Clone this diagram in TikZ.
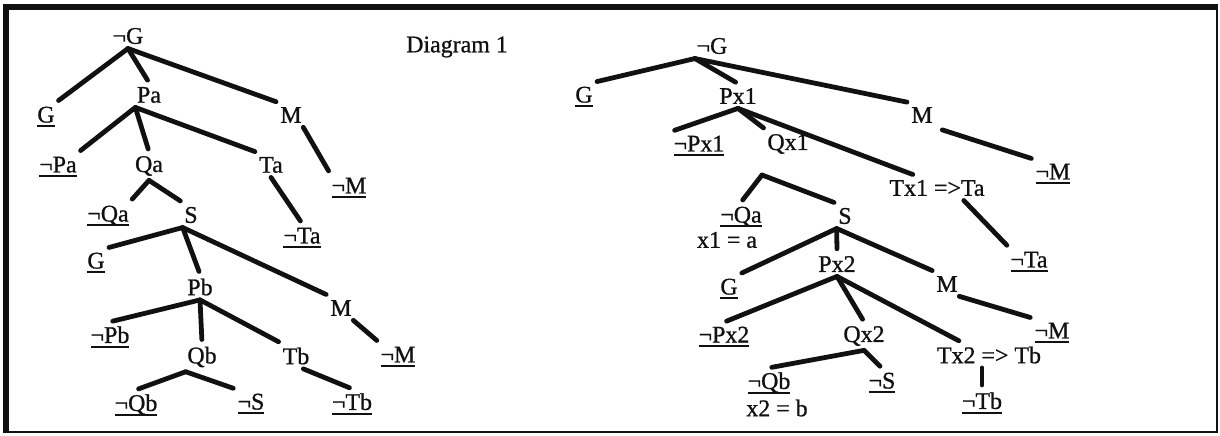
\documentclass[tikz,border=0pt]{standalone}
\usepackage{fontspec}
\setmainfont{Liberation Serif}
\newfontfamily\scanfont{Liberation Serif}[UprightFeatures={FakeBold=0.9}]
\usepackage{xcolor}
\definecolor{InkBlack}{HTML}{111111}
% closed branch: formula with a heavy rule under it
\newcommand{\leaf}[1]{\setbox0\hbox{#1}\leavevmode\rlap{\rule[-3.4pt]{\wd0}{1.4pt}}\box0}

\begin{document}
\begin{tikzpicture}[
	x=0.25mm, y=-0.25mm, % one unit = one pixel of the scan
	% Style for the formulas in the trees
	formula/.style={
		text=InkBlack,
		inner xsep=1pt,
		inner ysep=3pt,
		font=\scanfont\fontsize{17}{20}\selectfont
	},
	% Style for the tree branches
	branch/.style={
		draw=InkBlack,
		line width=3.4pt,
		line cap=round,
		line join=round,
		shorten >=2pt
	},
	% Style for the frame round the figure
	frame/.style={
		draw=InkBlack
	}
	]
	
	\useasboundingbox (0,0) rectangle (1220,436);
	
	% 0. Frame
	\draw[frame, line width=2pt] (1217,7) -- (1217,432) -- (6,432);
	\draw[frame, line width=4pt] (6,433) -- (6,7) -- (1218,7);
	
	\node[formula] (title) at (457,47) {Diagram 1};
	
	% 1. Left tree: node positions
	\node[formula] (lng) at (128,36) {¬G};
	
	\node[formula] (lg1) at (46,117) {\leaf{G}};
	\node[formula] (lpa) at (149,95) {Pa};
	\node[formula] (lm1) at (291,115) {M};
	
	\node[formula] (lnpa) at (58,167) {\leaf{¬Pa}};
	\node[formula] (lqa) at (149,166) {Qa};
	\node[formula] (lta) at (271,165) {Ta};
	\node[formula] (lnm1) at (349,188) {\leaf{¬M}};
	
	\node[formula] (lnqa) at (108,216) {\leaf{¬Qa}};
	\node[formula] (ls) at (191,215) {S};
	\node[formula] (lnta) at (302,238) {\leaf{¬Ta}};
	
	\node[formula] (lg2) at (96,263) {\leaf{G}};
	\node[formula] (lpb) at (200,287) {Pb};
	\node[formula] (lm2) at (341,308) {M};
	
	\node[formula] (lnpb) at (110,337) {\leaf{¬Pb}};
	\node[formula] (lqb) at (202,357) {Qb};
	\node[formula] (ltb) at (296,356) {Tb};
	\node[formula] (lnm2) at (398,357) {\leaf{¬M}};
	
	\node[formula] (lnqb) at (136,405) {\leaf{¬Qb}};
	\node[formula] (lns) at (251,404) {\leaf{¬S}};
	\node[formula] (lntb) at (352,404) {\leaf{¬Tb}};
	
	% 2. Left tree: branches
	\draw[branch] (lng.south) -- (lg1.north east);
	\draw[branch] (lng.south) -- (lpa.north);
	\draw[branch] (lng.south) -- (lm1.north west);
	
	\draw[branch] (lpa.south west) -- (lnpa.north east);
	\draw[branch] (lpa.south west) -- (lqa.north);
	\draw[branch] (lpa.south west) -- (lta.north west);
	\draw[branch] (lm1.south east) -- (lnm1.north west);
	
	\draw[branch] (lqa.south) -- (lnqa.north east);
	\draw[branch] (lqa.south) -- (ls.north west);
	\draw[branch] (lta.south) -- (lnta.north);
	
	\draw[branch] (ls.south west) -- (lg2.north east);
	\draw[branch] (ls.south west) -- (lpb.north);
	\draw[branch] (ls.south west) -- (lm2.north west);
	
	\draw[branch] (lpb.south) -- (lnpb.north);
	\draw[branch] (lpb.south) -- (lqb.north);
	\draw[branch] (lpb.south) -- (ltb.north west);
	\draw[branch] (lm2.south east) -- (lnm2.north west);
	
	\draw[branch] (lqb.south west) -- (lnqb.north);
	\draw[branch] (lqb.south west) -- (lns.north west);
	\draw[branch] (ltb.-60) -- (lntb.north);
	
	% 3. Right tree: node positions
	\node[formula] (rng) at (712,46) {¬G};
	
	\node[formula] (rg1) at (584,97) {\leaf{G}};
	\node[formula] (rpx1) at (738,96) {Px1};
	\node[formula] (rm1) at (922,115) {M};
	
	\node[formula] (rnpx1) at (699,146) {\leaf{¬Px1}};
	\node[formula] (rqx1) at (788,144) {Qx1};
	\node[formula] (rtx1) at (937,188) {Tx1 =>Ta};
	\node[formula] (rnm1) at (1053,174) {\leaf{¬M}};
	
	\coordinate (rqx1-r) at (762,175);
	\node[formula] (rnqa) at (741,217) {\leaf{¬Qa}};
	\node[formula] (rx1) at (727,240) {x1 = a};
	\node[formula] (rs) at (845,216) {S};
	\node[formula] (rnta) at (1029,262) {\leaf{¬Ta}};
	
	\node[formula] (rg2) at (729,289) {\leaf{G}};
	\node[formula] (rpx2) at (837,264) {Px2};
	\node[formula] (rm2) at (947,284) {M};
	
	\node[formula] (rnpx2) at (724,337) {\leaf{¬Px2}};
	\node[formula] (rqx2) at (864,336) {Qx2};
	\node[formula] (rtx2) at (989,355) {Tx2 => Tb};
	\node[formula] (rnm2) at (1052,333) {\leaf{¬M}};
	
	\node[formula] (rnqb) at (769,383) {\leaf{¬Qb}};
	\node[formula] (rx2) at (777,408) {x2 = b};
	\node[formula] (rns) at (882,383) {\leaf{¬S}};
	\node[formula] (rntb) at (982,403) {\leaf{¬Tb}};
	
	% 4. Right tree: branches
	\draw[branch] (rng.south west) -- (rg1.north east);
	\draw[branch] (rng.south west) -- (rpx1.north);
	\draw[branch] (rng.south west) -- (rm1.north west);
	
	\draw[branch] (rpx1.south) -- (rnpx1.north west);
	\draw[branch] (rpx1.south) -- (rqx1.north west);
	\draw[branch] (rpx1.south) -- (rtx1.150);
	\draw[branch, shorten <=6pt] (rm1.south east) -- (rnm1.north west);
	
	\draw[branch] (rqx1-r) -- (rnqa.north);
	\draw[branch] (rqx1-r) -- (rs.north west);
	\draw[branch] (rtx1.-25) -- (rnta.north west);
	
	\draw[branch] (rs.south west) -- (rg2.north east);
	\draw[branch] (rs.south west) -- (rpx2.north);
	\draw[branch] (rs.south west) -- (rm2.north west);
	
	\draw[branch] (rpx2.south) -- (rnpx2.north);
	\draw[branch] (rpx2.south) -- (rqx2.north);
	\draw[branch] (rpx2.south) -- (rtx2.155);
	\draw[branch] (rm2.south east) -- (rnm2.north west);
	
	\draw[branch] (rqx2.south) -- (rnqb.north);
	\draw[branch] (rqx2.south) -- (rns.north);
	\draw[branch] (rtx2.south -| rntb.north) -- (rntb.north);
	
\end{tikzpicture}
\end{document}
